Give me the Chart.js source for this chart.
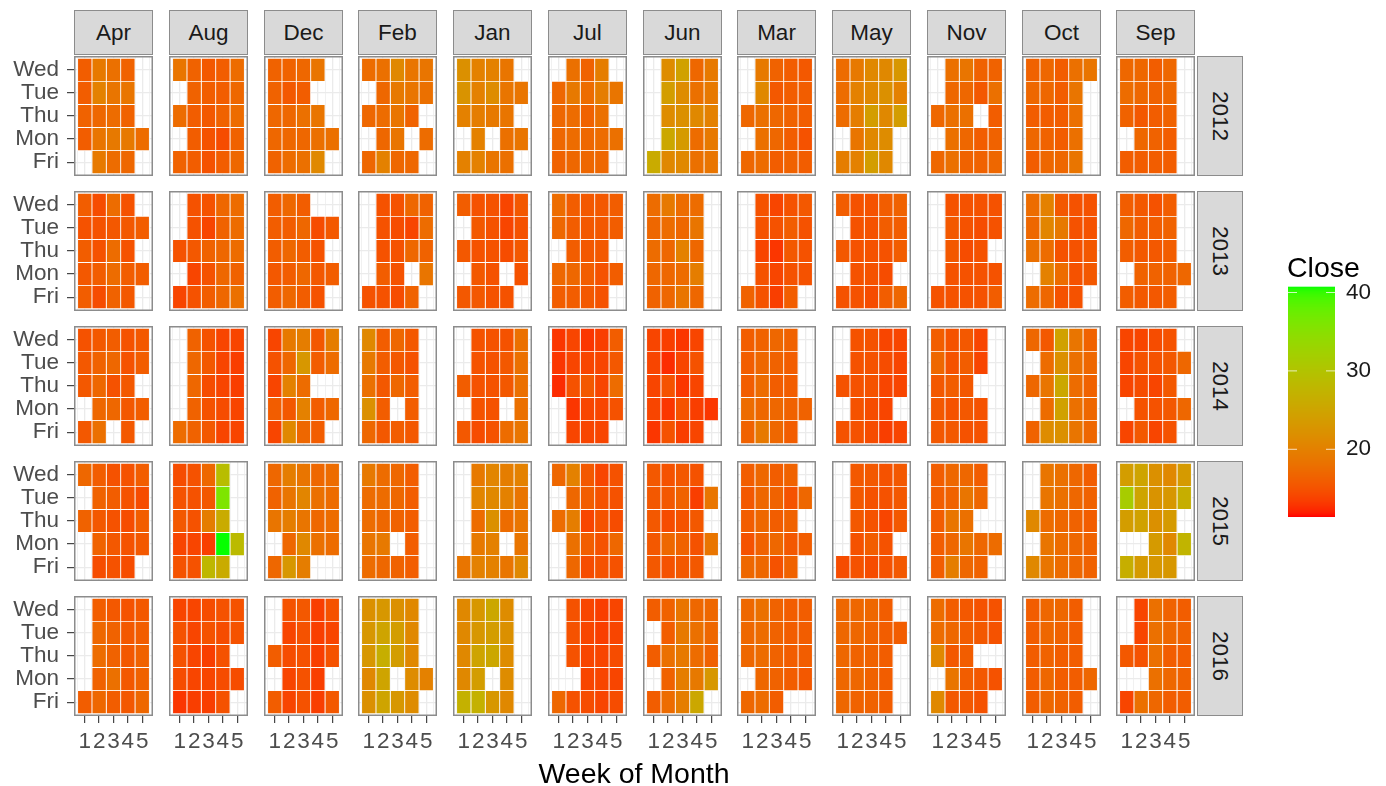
<!DOCTYPE html>
<html>
<head>
<meta charset="utf-8">
<script src="https://cdn.jsdelivr.net/npm/chart.js@4.4.0/dist/chart.umd.min.js"></script>
<style>
  body { margin: 0; background: #fff; width: 1386px; height: 786px; overflow: hidden; position: relative;
         font-family: "Liberation Sans", Arial, Helvetica, sans-serif; }
  canvas { position: absolute; }
  .strip { position: absolute; box-sizing: border-box; background: #d9d9d9; border: 1.5px solid #8c8c8c;
           color: #1a1a1a; font-size: 22.5px; display: flex; align-items: center; justify-content: center; }
  .strip.year span { display: block; transform: rotate(90deg); white-space: nowrap; }
  .label { position: absolute; white-space: nowrap; color: #000; }
</style>
</head>
<body>
<script>
// --- data: VIX-like "Close" per trading day, laid out as weekday rows x week-of-month columns ---
const _ = null;
const months = ['Apr', 'Aug', 'Dec', 'Feb', 'Jan', 'Jul', 'Jun', 'Mar', 'May', 'Nov', 'Oct', 'Sep'];
const years = [2012, 2013, 2014, 2015, 2016];
const weekdays = ['Wed', 'Tue', 'Thu', 'Mon', 'Fri'];   // top to bottom
const weekTicks = [1, 2, 3, 4, 5];
const legendTicks = [20, 30, 40];
const closeLimits = [11.4, 40.74];

// each month: rows Wed, Tue, Thu, Mon, Fri; columns week 1..5
const close2012 = [
  [[16,19,18,16.5,_],[16,20,18.5,18.5,_],[16.5,17,17.5,16.5,_],[16,18.5,19,19,17.5],[_,19,17.5,17,_]],
  [[18.5,16.5,15.5,16,17.5],[_,16.5,16,16,17],[17.5,16,15.5,16.5,17.5],[_,16,15,14.5,16.5],[16.5,16,15,16,17]],
  [[16.5,16.5,17,18.5,_],[16.5,15.5,16,_,_],[17,17,18,18.5,_],[17,17,17,18,18],[16.5,17.5,18,21,_]],
  [[17.5,18,21,18.5,18.5],[_,17,19,18.5,18],[17,17.5,18.5,16.5,_],[_,17,18.5,_,17.5],[17,20,17,17,_]],
  [[22,20,20,18.5,_],[22.5,20,21.5,18.5,18.5],[20,19.5,19,18.5,_],[_,20,_,18,18.5],[20,20,18.5,18,_]],
  [[_,18,16.5,19.5,_],[17,19,17.5,19.5,18.5],[17,17.5,16.5,18,_],[17,17.5,17,17.5,18],[16.5,17,17,17,_]],
  [[_,21.5,24.5,17,19],[_,24,21.5,18,19],[_,21.5,22,21,20],[_,25.5,23.5,17.5,19],[26,21,21,18,18.5]],
  [[_,19,16.5,16,15.5],[_,21,15.5,16,16],[17,18,17,16.5,16],[_,18,17,16,15],[17,17.5,16,16.5,16]],
  [[17.5,19,21,21,23],[17.5,20,21,22,20],[17.5,19.5,24,21,24],[_,18.5,21,21.5,_],[19.5,20,24,21,_]],
  [[_,18,18.5,16.5,16.5],[_,17,17,15.5,18],[17,18,18,_,16],[_,18,17,16,16.5],[17,18,16.5,16.5,17]],
  [[16.5,17,16,18,18.5],[17,17,16,18.5,_],[16,16,16,18,_],[17,16.5,16,18,_],[16,17,17,18.5,_]],
  [[17,17,16,17,_],[17.5,17,16.5,17,_],[16.5,15.5,16,16.5,_],[_,17,16.5,16,_],[16,16,16,16,_]]
];
const close2013 = [
  [[16,14.5,17.5,15,_],[15,15,15.5,15.5,16],[16,15,17.5,15,_],[15.5,16,17.5,16,16],[16,14.5,16.5,15.5,_]],
  [[_,15,15,17,17.5],[_,15,14,16.5,17.5],[15,15.5,16.5,17,17.5],[_,14,15,17,16.5],[14,15,16,17,18]],
  [[16,17,16,_,_],[16,16,17,14.5,15.5],[16,17,16,15,_],[15.5,16,17,15.5,16],[16,17,16,15,_]],
  [[_,15,15,17,16.5],[_,15,14.5,14,17.5],[_,15,15,17,16.5],[_,16,15,_,18.5],[15,15,14.5,16.5,_]],
  [[16,15,15,14,15.5],[_,15.5,15,14,15],[15.5,15,15,14.5,15.5],[_,15.5,15,_,15],[15.5,15.5,15,15,_]],
  [[17.5,16,15.5,15.5,16],[17,16,15.5,15.5,16],[_,16,15.5,15.5,_],[17,17,16,15,16],[16,16,15.5,15,_]],
  [[17.5,19,17.5,17.5,_],[17,17.5,17,18.5,_],[17.5,17,20,17,_],[17,17,17.5,19.5,_],[16.5,17,18.5,17,_]],
  [[_,15,14,15,15.5],[_,15,15,16,15],[_,14,13,15.5,15],[_,15,14,15,15],[16.5,15,13.5,16,_]],
  [[16,15,15,16,16.5],[_,15,15,16,16],[15.5,15,15,15,16],[_,15,15,14.5,_],[15,15,14.5,16,17]],
  [[_,15,15,15,15],[_,15.5,15,14.5,15],[_,15.5,14.5,15,_],[_,15,15,15,15],[15,15,15,15,16]],
  [[17.5,20,15.5,15,15],[17,20.5,19,15,15],[18,17.5,15,15,15.5],[_,20,17.5,15,15.5],[17.5,17,15,15,_]],
  [[16,15.5,15,16,_],[17,16,16,16.5,_],[16,15.5,15.5,16,_],[_,16.5,16.5,16.5,17],[16,15.5,15.5,16,_]]
];
const close2014 = [
  [[15,15.5,16,15,15.5],[15.5,16.5,17,15,16],[15.5,17,15,15.5,_],[_,17,17,15.5,16],[15.5,18,_,15.5,_]],
  [[_,16.5,15,14,14],[_,17,15.5,14,13.5],[_,17,14.5,14,13.5],[_,16.5,15,14.5,14],[17.5,16.5,15.5,14,14]],
  [[14,19,19.5,15.5,19.5],[15,17,23,16,17.5],[14,20,17.5,_,_],[16,15.5,20,16,17],[14,21,17,16,_]],
  [[21,16,17,15.5,_],[19,16,15.5,15,_],[18,15.5,17,16,_],[22,16,_,16,_],[17,15.5,16,15.5,_]],
  [[_,15,15,15,18],[_,15,15,15.5,18],[16,15,15,15.5,18],[_,15,15,_,18],[15.5,14.5,15,17.5,18.5]],
  [[13,14,13,13.5,16],[13,14,14,14,15.5],[12.5,15,15.5,14,17.5],[_,13,14,14,15],[_,14,14,14,_]],
  [[14,13.5,13,14,_],[14,12.5,14,15,_],[14,15,13,14,_],[14,13,15,13.5,13],[13,15,13.5,14,_]],
  [[16,16.5,17,16.5,_],[16,17,16.5,16,_],[16,17.5,16,16,_],[17.5,17,17,16.5,16.5],[16.5,19,17,16,_]],
  [[_,15,15,14,14],[_,15,15,14.5,14],[15,15,15,14,14],[_,15,14.5,14,_],[15,15,14.5,13.5,14]],
  [[16,15,15.5,14,_],[17,15,16,14,_],[15.5,16,15.5,_,_],[15.5,15,15.5,15,_],[15.5,15.5,15,15,_]],
  [[17,15.5,24.5,18.5,16.5],[_,17.5,22,18,17],[17,18.5,25.5,17.5,16.5],[_,17.5,24.5,18,17],[16.5,21.5,22,18.5,17]],
  [[14,14,14.5,15,_],[14,15,15,15.5,17],[14,14.5,14,15.5,_],[_,15,15,15.5,17],[14,15.5,14,15,_]]
];
const close2015 = [
  [[17,16,15,15,16],[_,16.5,16,15,14.5],[16.5,15.5,15,14.5,16],[_,16.5,15.5,15,15.5],[_,14.5,15,14.5,_]],
  [[14.5,15,17,29,_],[15,15,15.5,36,_],[15.5,15,19.5,26,_],[14,14,13.5,40.7,28.5],[15,15,28,26,_]],
  [[17,19.5,18.5,17,17.5],[16.5,18.5,20.5,18,17.5],[18.5,19.5,18.5,17,17.5],[_,17,21,18,17.5],[17,23,19.5,_,_]],
  [[19,17.5,17,16,_],[17.5,17.5,17,16,_],[17.5,17,16.5,16,_],[18.5,19,_,16,_],[17.5,17,16.5,16,_]],
  [[_,19,20.5,19.5,20],[_,20.5,21,20,18.5],[_,17.5,22,17.5,18.5],[_,19,20,_,18.5],[18.5,20,20,18.5,21]],
  [[17,20,15.5,14,15],[_,17,16,15,15],[17.5,19.5,14,15,14.5],[_,18,16,15,17],[_,17,14.5,15,15]],
  [[15.5,15,15.5,15,_],[15.5,15.5,16.5,13.5,18.5],[15.5,14.5,15,15.5,_],[15.5,17,16.5,15,18.5],[15.5,15,15.5,15.5,_]],
  [[16,17,16,16.5,_],[15.5,17,16.5,15,17],[16,17,16,16.5,_],[15,16.5,17,15.5,16],[17,17,15,16.5,_]],
  [[_,15.5,15.5,15,15.5],[_,15.5,15,15,15.5],[_,15.5,15,14,15.5],[_,15,16,15,_],[14.5,15,14.5,15,15.5]],
  [[16,17,17,16,_],[16,16.5,18.5,17,_],[16,18.5,18,_,_],[16,17,18.5,17,17.5],[16,19.5,17,16.5,_]],
  [[_,18.5,18,17,16],[_,18.5,18,17,16.5],[21,17.5,17,16.5,16],[_,18.5,17.5,17,16.5],[21,18.5,17.5,17,16.5]],
  [[24,25,22,21,23.5],[31.5,25,22.5,23,26.5],[24,24.5,22,23.5,_],[_,_,23.5,21,27.5],[26.5,23.5,23,23,_]]
];
const close2016 = [
  [[_,16,15.5,15,15.5],[_,17,16.5,15.5,16],[_,17.5,16.5,15.5,16.5],[_,16.5,18,15.5,16.5],[16,17,16,15.5,17]],
  [[14,14,14.5,15,15],[15,14,15,14.5,15],[15,14,13.5,15,_],[14.5,14,14,14.5,14.5],[13,13.5,13.5,15,_]],
  [[_,15,15.5,13.5,15],[_,14,15,13.5,14],[16,14.5,15,13.5,15],[_,14,15,13.5,_],[16,14,15,13.5,15.5]],
  [[22,23,22,21,_],[23,25,24,21,_],[23,26.5,24,21,_],[21,25,_,21.5,20],[22,25,23,21.5,_]],
  [[21,23,25.5,21.5,_],[21,23,24,22,_],[21,25,25.5,21.5,_],[21,24,_,21.5,_],[27,27,23,21,_]],
  [[_,15,14,13.5,14],[_,15,14,13.5,14],[_,15,14,14,14.5],[_,_,14,14,14],[17,15,14.5,14,14.5]],
  [[16,16.5,18.5,17,17],[_,16,19,18,17],[16,18,19,17.5,16.5],[_,16.5,19.5,19,23],[16,17.5,19.5,25.5,_]],
  [[17,18,16.5,16,16],[17,17.5,16.5,16,16],[17,17.5,16.5,16,16],[_,17,16.5,16,15.5],[17,17.5,16,_,_]],
  [[17,17,17,16,_],[17,17,16.5,16,16],[17,16.5,16.5,16,_],[17,17,16.5,16,_],[17,16.5,16.5,16,_]],
  [[17.5,16,15.5,15,15],[17.5,17,16,15.5,15],[21,15.5,16,_,_],[_,18.5,16,15.5,15],[21,15.5,15.5,15,_]],
  [[16,17,17,16,_],[16,17,16.5,16,_],[16,16.5,16,16,_],[16,17,16,16,17],[16,17,16.5,16,_]],
  [[_,14,18,16.5,16],[_,14,18,17,16.5],[15.5,15,18,16,16],[_,_,18,17,16.5],[14,18,17,16,16]]
];
const closeByYear = [close2012, close2013, close2014, close2015, close2016];

// --- colour scale: red -> green, interpolated in Lab like ggplot ---
const FONT = '"Liberation Sans", Arial, Helvetica, sans-serif';
const AXIS_FONT = 22.5;

function rgbToLab(rgb) {
  const lin = rgb.map(c => { c /= 255; return c <= 0.04045 ? c / 12.92 : Math.pow((c + 0.055) / 1.055, 2.4); });
  const X = (0.4124564 * lin[0] + 0.3575761 * lin[1] + 0.1804375 * lin[2]) / 0.95047;
  const Y = 0.2126729 * lin[0] + 0.7151522 * lin[1] + 0.0721750 * lin[2];
  const Z = (0.0193339 * lin[0] + 0.1191920 * lin[1] + 0.9503041 * lin[2]) / 1.08883;
  const f = t => t > 0.008856 ? Math.cbrt(t) : 7.787 * t + 16 / 116;
  return [116 * f(Y) - 16, 500 * (f(X) - f(Y)), 200 * (f(Y) - f(Z))];
}

function labToCss(lab) {
  const fy = (lab[0] + 16) / 116, fx = fy + lab[1] / 500, fz = fy - lab[2] / 200;
  const inv = t => t * t * t > 0.008856 ? t * t * t : (t - 16 / 116) / 7.787;
  const X = inv(fx) * 0.95047, Y = inv(fy), Z = inv(fz) * 1.08883;
  const lin = [
    3.2404542 * X - 1.5371385 * Y - 0.4985314 * Z,
    -0.9692660 * X + 1.8760108 * Y + 0.0415560 * Z,
    0.0556434 * X - 0.2040259 * Y + 1.0572252 * Z
  ];
  const c = lin.map(v => {
    v = v <= 0.0031308 ? 12.92 * v : 1.055 * Math.pow(v, 1 / 2.4) - 0.055;
    return Math.round(Math.max(0, Math.min(1, v)) * 255);
  });
  return 'rgb(' + c.join(',') + ')';
}

const lowLab = rgbToLab([255, 0, 0]);
const highLab = rgbToLab([0, 255, 0]);

function fillFor(v) {
  let t = (v - closeLimits[0]) / (closeLimits[1] - closeLimits[0]);
  t = Math.max(0, Math.min(1, t));
  return labToCss(lowLab.map((c, i) => c + (highLab[i] - c) * t));
}

// --- panel geometry ---
const PX0 = 74, PDX = 94.75, PW = 79;
const PY0 = 56, PDY = 135, PH = 120;
const XAXIS_H = 44;
const xGrid = [0.5, 1, 1.5, 2, 2.5, 3, 3.5, 4, 4.5, 5, 5.5];

const framePlugin = {
  id: 'frame',
  afterDraw(chart) {
    const { ctx, chartArea: a } = chart;
    ctx.save();
    ctx.strokeStyle = '#8c8c8c';
    ctx.lineWidth = 1.5;
    ctx.strokeRect(a.left + 0.75, a.top + 0.75, a.width - 1.5, a.height - 1.5);
    ctx.restore();
  }
};

function noPadding(s) {
  s.paddingTop = 0; s.paddingBottom = 0; s.paddingLeft = 0; s.paddingRight = 0;
}

function addDiv(cls, text, css) {
  const d = document.createElement('div');
  d.className = cls;
  d.innerHTML = text;
  Object.assign(d.style, css);
  document.body.appendChild(d);
  return d;
}

years.forEach((year, r) => {
  const yearData = closeByYear[r];
  months.forEach((month, m) => {
    const px = Math.round(PX0 + m * PDX);
    const py = PY0 + r * PDY;
    const isLeft = m === 0;
    const isBottom = r === years.length - 1;

    const canvas = document.createElement('canvas');
    const left = isLeft ? 0 : px;
    canvas.width = px + PW - left;
    canvas.height = PH + (isBottom ? XAXIS_H : 0);
    canvas.style.left = left + 'px';
    canvas.style.top = py + 'px';
    document.body.appendChild(canvas);

    const rows = yearData[m];
    const datasets = weekTicks.map((w, wi) => ({
      data: rows
        .map((row, ri) => row[wi] == null ? null : { x: [w - 0.5, w + 0.5], y: weekdays.length - ri, v: row[wi] })
        .filter(Boolean),
      backgroundColor: ctx => ctx.raw ? fillFor(ctx.raw.v) : 'rgba(0,0,0,0)',
      borderColor: 'rgba(255,255,255,0.8)',
      borderWidth: 0.8,
      borderSkipped: false,
      barPercentage: 1,
      categoryPercentage: 1,
      grouped: false
    }));

    new Chart(canvas, {
      type: 'bar',
      data: { datasets },
      options: {
        indexAxis: 'y',
        responsive: false,
        animation: false,
        events: [],
        layout: { padding: 0, autoPadding: false },
        plugins: { legend: { display: false }, tooltip: { enabled: false } },
        scales: {
          x: {
            type: 'linear', min: 0.25, max: 5.75, offset: false,
            afterBuildTicks: s => { s.ticks = xGrid.map(v => ({ value: v })); },
            afterFit: s => { s.height = isBottom ? XAXIS_H : 0; noPadding(s); },
            border: { display: false },
            grid: {
              offset: false,
              color: '#ebebeb',
              lineWidth: c => (c.tick && Number.isInteger(c.tick.value)) ? 1.3 : 0.7,
              drawTicks: isBottom,
              tickLength: 7,
              tickWidth: 1.1,
              tickColor: c => (c.tick && Number.isInteger(c.tick.value)) ? '#333' : 'rgba(0,0,0,0)'
            },
            ticks: {
              display: isBottom, autoSkip: false, maxRotation: 0, minRotation: 0, padding: 5.5,
              color: '#4d4d4d', font: { size: AXIS_FONT, family: FONT },
              callback: v => Number.isInteger(v) ? String(v) : ''
            }
          },
          y: {
            type: 'linear', min: 0.4, max: 5.6, offset: false,
            afterBuildTicks: s => { s.ticks = weekdays.map((d, i) => ({ value: weekdays.length - i })); },
            afterFit: s => { s.width = isLeft ? PX0 : 0; noPadding(s); },
            border: { display: false },
            grid: { offset: false, color: '#ebebeb', lineWidth: 1.3, drawTicks: isLeft, tickLength: 7, tickWidth: 1.1, tickColor: '#333' },
            ticks: {
              display: isLeft, autoSkip: false, padding: 8, color: '#4d4d4d', font: { size: AXIS_FONT, family: FONT },
              callback: v => weekdays[weekdays.length - v]
            }
          }
        }
      },
      plugins: [framePlugin]
    });

    if (r === 0) {
      addDiv('strip', month, { left: px + 'px', top: '10px', width: PW + 'px', height: '45px' });
    }
    if (m === months.length - 1) {
      addDiv('strip year', '<span>' + year + '</span>', { left: (px + PW + 2) + 'px', top: py + 'px', width: '46px', height: PH + 'px' });
    }
  });
});

// --- colour bar legend ---
const colourbarPlugin = {
  id: 'colourbar',
  beforeDatasetsDraw(chart) {
    const { ctx, chartArea: a, scales: { y } } = chart;
    for (let p = Math.floor(a.top); p < a.bottom; p++) {
      ctx.fillStyle = fillFor(y.getValueForPixel(p + 0.5));
      ctx.fillRect(a.left, Math.max(p, a.top), a.width, 1);
    }
    ctx.save();
    ctx.strokeStyle = 'rgba(255,255,255,0.75)';
    ctx.lineWidth = 1;
    legendTicks.forEach(t => {
      const p = y.getPixelForValue(t);
      ctx.beginPath();
      ctx.moveTo(a.left, p); ctx.lineTo(a.left + 9, p);
      ctx.moveTo(a.right - 9, p); ctx.lineTo(a.right, p);
      ctx.stroke();
    });
    ctx.restore();
  }
};

const legendCanvas = document.createElement('canvas');
legendCanvas.width = 100;
legendCanvas.height = 270;
legendCanvas.style.left = '1288px';
legendCanvas.style.top = '270px';
document.body.appendChild(legendCanvas);

new Chart(legendCanvas, {
  type: 'bar',
  data: { datasets: [] },
  options: {
    responsive: false,
    animation: false,
    events: [],
    layout: { padding: { top: 16.7, bottom: 23.3, left: 0, right: 0 }, autoPadding: false },
    plugins: { legend: { display: false }, tooltip: { enabled: false } },
    scales: {
      x: { display: false },
      y: {
        type: 'linear', position: 'right', min: closeLimits[0], max: closeLimits[1], offset: false,
        afterBuildTicks: s => { s.ticks = legendTicks.map(v => ({ value: v })); },
        afterFit: s => { s.width = 53; noPadding(s); },
        border: { display: false },
        grid: { display: false, drawTicks: false },
        ticks: { padding: 11, color: '#1a1a1a', font: { size: AXIS_FONT, family: FONT } }
      }
    }
  },
  plugins: [colourbarPlugin]
});

addDiv('label', 'Close', { left: '1287px', top: '253px', fontSize: '28.5px', lineHeight: '28.5px' });
addDiv('label', 'Week of Month', { left: '634px', top: '759px', fontSize: '28.5px', lineHeight: '28.5px', transform: 'translateX(-50%)' });
</script>
</body>
</html>
